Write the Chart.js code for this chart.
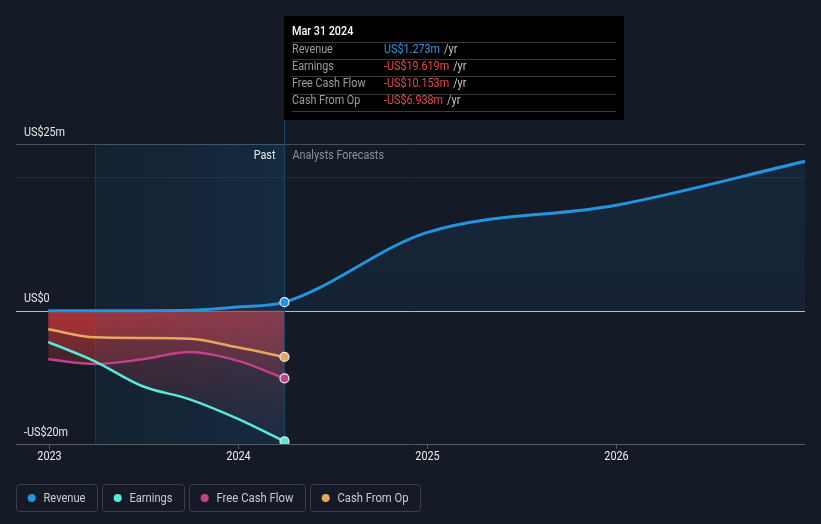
<!DOCTYPE html>
<html><head><meta charset="utf-8">
<script src="https://cdn.jsdelivr.net/npm/chart.js@4.4.1/dist/chart.umd.min.js"></script>
<style>
html,body{margin:0;padding:0;background:#151b26;width:821px;height:524px;overflow:hidden;}
#wrap{position:relative;width:821px;height:524px;}
canvas{display:block}
</style></head>
<body><div id="wrap"><canvas id="c" width="821" height="524"></canvas></div>
<script>
// ---- data ----
const revenueDates = ["2022-12-31","2023-03-31","2023-06-30","2023-09-30","2023-12-31","2024-03-31","2024-12-31","2025-12-31","2026-12-31"];
const revenue      = [0, 0, 0, 0.05, 0.55, 1.273, 11.7, 15.8, 22.4];
const pastDates    = ["2022-12-31","2023-03-31","2023-06-30","2023-09-30","2023-12-31","2024-03-31"];
const earnings     = [-4.7, -7.6, -11.3, -13.3, -16.2, -19.619];
const freeCashFlow = [-7.3, -8.0, -7.3, -6.2, -7.5, -10.153];
const cashFromOp   = [-2.8, -4.0, -4.1, -4.2, -5.5, -6.938];
const seriesNames  = ["Revenue","Earnings","Free Cash Flow","Cash From Op"];
const yTickValues  = [25, 0, -20];
const yTickLabels  = ["US$25m","US$0","-US$20m"];
const xTickValues  = [2023, 2024, 2025, 2026];
const xTickLabels  = ["2023","2024","2025","2026"];
const shadeStartDate = "2023-03-31";
const tooltipTitle = "Mar 31 2024";

// ---- styles ----
const COLORS = ["#2394df","#5ce8d6","#c4418a","#e6a85c"];
const LEGEND_W = [81,82,116,110];
const SX = 0.9;

function yearFrac(s){const [y,m,d]=s.split('-').map(Number);const t=Date.UTC(y,m-1,d),a=Date.UTC(y,0,1),b=Date.UTC(y+1,0,1);return y+(t-a)/(b-a);}
function pts(dates, vals){return vals.map((v,i)=>({x:yearFrac(dates[i]), y:v}));}
const LAST_PAST = pastDates.length-1;
const nowX = yearFrac(pastDates[LAST_PAST]);

function txt(ctx,s,x,y,font,color,align,sx){
  sx=sx||SX;
  ctx.save();ctx.font=font;ctx.fillStyle=color;ctx.textBaseline='middle';ctx.textAlign='left';
  const w=ctx.measureText(s).width*sx;let l=x;
  if(align==='right')l=x-w;else if(align==='center')l=x-w/2;
  ctx.translate(l,y);ctx.scale(sx,1);ctx.fillText(s,0,0);ctx.restore();return w;
}
function fmt(v){return (v<0?'-':'')+'US$'+Math.abs(v).toFixed(3)+'m';}

function redFill(c){
  const ch=c.chart,a=ch.chartArea;if(!a)return 'rgba(212,58,60,0.2)';
  const y0=ch.scales.y.getPixelForValue(0);
  const g=ch.ctx.createLinearGradient(0,y0,0,a.bottom);
  g.addColorStop(0,'rgba(212,58,60,0.38)');g.addColorStop(1,'rgba(212,58,60,0.03)');return g;
}
function blueFill(c){
  const ch=c.chart,a=ch.chartArea;if(!a)return 'rgba(35,130,210,0.1)';
  const y0=ch.scales.y.getPixelForValue(0);
  const g=ch.ctx.createLinearGradient(0,a.top,0,y0);
  g.addColorStop(0,'rgba(35,130,210,0.13)');g.addColorStop(1,'rgba(35,130,210,0.07)');return g;
}
const pr = c => c.dataIndex===LAST_PAST?4.5:0;

function ds(label,data,color,fillColor,width){
  return {label,data,borderColor:color,backgroundColor:fillColor,fill:'origin',borderWidth:width,
    cubicInterpolationMode:'monotone',pointRadius:pr,pointHoverRadius:0,pointBackgroundColor:color,
    pointBorderColor:'#e8eef5',pointBorderWidth:1.2};
}

const deco = {
  id:'deco',
  beforeDraw(ch){
    const ctx=ch.ctx,a=ch.chartArea,ys=ch.scales.y;
    ctx.save();
    const line=(y,c)=>{ctx.strokeStyle=c;ctx.lineWidth=1;ctx.beginPath();ctx.moveTo(a.left,Math.round(y)+0.5);ctx.lineTo(a.right,Math.round(y)+0.5);ctx.stroke();};
    line(a.top,'#4a505b');
    line(ys.getPixelForValue(20),'#232a36');
    line(a.bottom,'#555a64');
    line(ys.getPixelForValue(0),'#b9bcc2');
    ctx.restore();
  },
  beforeDatasetsDraw(ch){
    const ctx=ch.ctx,a=ch.chartArea,xs=ch.scales.x;
    const x0=xs.getPixelForValue(yearFrac(shadeStartDate)),x1=xs.getPixelForValue(nowX);
    ctx.save();
    const g=ctx.createLinearGradient(x0,0,x1,0);
    g.addColorStop(0,'rgba(20,100,160,0.09)');g.addColorStop(1,'rgba(20,100,160,0.22)');
    ctx.fillStyle=g;ctx.fillRect(x0,a.top,x1-x0,a.bottom-a.top);
    ctx.strokeStyle='rgba(40,110,170,0.25)';ctx.lineWidth=1;
    ctx.beginPath();ctx.moveTo(Math.round(x0)+0.5,a.top);ctx.lineTo(Math.round(x0)+0.5,a.bottom);ctx.stroke();
    ctx.strokeStyle='#1f4566';
    ctx.beginPath();ctx.moveTo(Math.round(x1)+0.5,120);ctx.lineTo(Math.round(x1)+0.5,a.bottom);ctx.stroke();
    ctx.restore();
  },
  afterDraw(ch){
    const ctx=ch.ctx,a=ch.chartArea,xs=ch.scales.x,ys=ch.scales.y;
    const F='12px Roboto';
    // y labels
    yTickValues.forEach((v,i)=>txt(ctx,yTickLabels[i],24,ys.getPixelForValue(v)-11.5,F,'#e6e8eb','left'));
    // x ticks
    ctx.save();ctx.strokeStyle='#555a64';ctx.lineWidth=1;
    xTickValues.forEach((v,i)=>{const x=Math.round(xs.getPixelForValue(v))+0.5;
      ctx.beginPath();ctx.moveTo(x,a.bottom);ctx.lineTo(x,a.bottom+5);ctx.stroke();
      txt(ctx,xTickLabels[i],x,a.bottom+13,F,'#eceef0','center');});
    ctx.restore();
    // Past / forecasts
    const xn=xs.getPixelForValue(nowX);
    txt(ctx,'Past',xn-9,156,F,'#e8eaed','right');
    txt(ctx,'Analysts Forecasts',xn+8,156,F,'#8c9098','left');
    // tooltip
    ctx.save();ctx.fillStyle='#000';ctx.fillRect(284,16,340,104);ctx.restore();
    txt(ctx,tooltipTitle,292,31.5,'500 12px Roboto','#ffffff','left');
    const vals=[revenue[LAST_PAST],earnings[LAST_PAST],freeCashFlow[LAST_PAST],cashFromOp[LAST_PAST]];
    const seps=[41.5,58.5,76,93.5,111];
    ctx.save();ctx.strokeStyle='#3a3a3c';ctx.lineWidth=1;
    seps.forEach(y=>{ctx.beginPath();ctx.moveTo(292,Math.round(y)+0.5);ctx.lineTo(616,Math.round(y)+0.5);ctx.stroke();});
    ctx.restore();
    const rowY=[49.5,66.8,84.2,101.4];
    seriesNames.forEach((n,i)=>{
      txt(ctx,n,292,rowY[i],F,'#9a9ea5','left');
      const w=txt(ctx,fmt(vals[i]),384,rowY[i],F,vals[i]<0?'#e5474d':'#2f95e0','left');
      txt(ctx,'/yr',384+w+4,rowY[i],F,'#c3c5c9','left');
    });
    // legend
    let bx=16;const by=484,bh=27;
    seriesNames.forEach((n,i)=>{
      const bw=LEGEND_W[i];
      ctx.save();ctx.font=F;const tw=ctx.measureText(n).width;ctx.restore();
      const avail=bw-39;const sx=Math.min(1,avail/tw);
      ctx.save();ctx.strokeStyle='#3a3f4a';ctx.lineWidth=1;
      ctx.beginPath();ctx.roundRect(bx+0.5,by+0.5,bw,bh,3);ctx.stroke();
      ctx.fillStyle=COLORS[i];ctx.beginPath();ctx.arc(bx+15.7,by+bh/2+0.5,4,0,Math.PI*2);ctx.fill();
      ctx.restore();
      txt(ctx,n,bx+27.5,by+bh/2+1,F,'#c9ccd1','left',sx);
      bx+=bw+5;
    });
  }
};

new Chart(document.getElementById('c'),{
  type:'line',
  data:{datasets:[
    ds(seriesNames[0],pts(revenueDates,revenue),COLORS[0],blueFill,3),
    ds(seriesNames[1],pts(pastDates,earnings),COLORS[1],redFill,2.5),
    ds(seriesNames[2],pts(pastDates,freeCashFlow),COLORS[2],redFill,2.5),
    ds(seriesNames[3],pts(pastDates,cashFromOp),COLORS[3],redFill,2.5)
  ]},
  options:{
    responsive:false,animation:false,events:[],
    layout:{padding:{left:16,right:16,top:144,bottom:80}},
    scales:{
      x:{type:'linear',display:false,min:2022.827,max:2026.997},
      y:{type:'linear',display:false,min:-20,max:25}
    },
    plugins:{legend:{display:false},tooltip:{enabled:false},filler:{drawTime:'beforeDatasetsDraw'}}
  },
  plugins:[deco]
});
</script></body></html>
